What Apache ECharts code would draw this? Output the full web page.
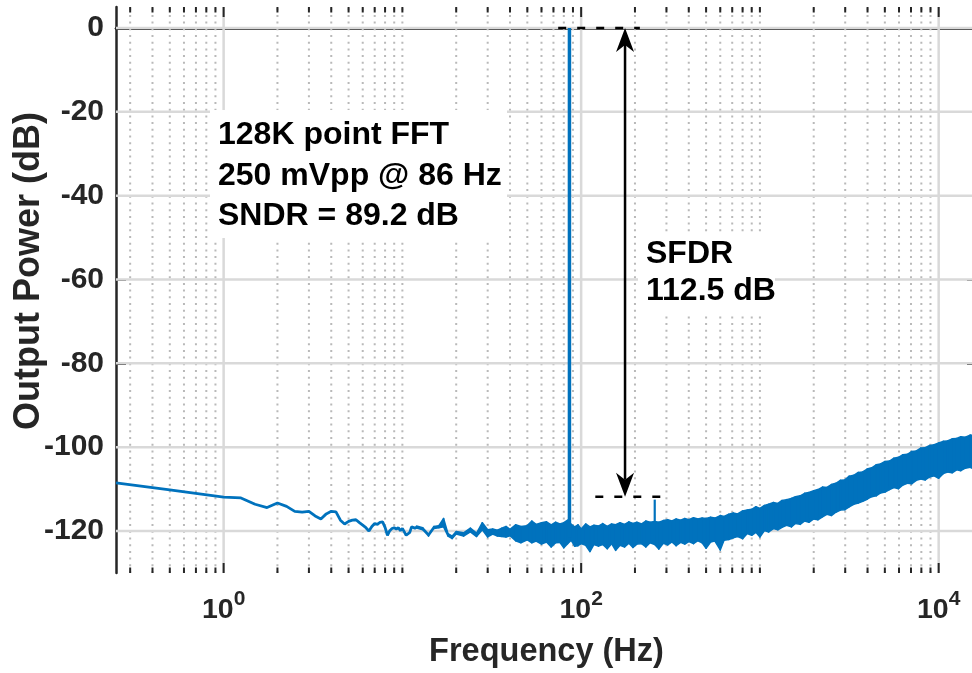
<!DOCTYPE html>
<html>
<head>
<meta charset="utf-8">
<script src="https://cdn.jsdelivr.net/npm/echarts@6/dist/echarts.min.js"></script>
<style>
  html, body { margin: 0; padding: 0; background: #ffffff; overflow: hidden; }
  #chart { width: 972px; height: 673px; }
</style>
</head>
<body>
<div id="chart"></div>
<script>
// ---- Spectrum data (frequency in Hz, power in dB) ----
// Low-frequency part of the spectrum, one point per 0.25 Hz bin
const lineFreq = [0.25, 0.5, 0.75, 1.0, 1.25, 1.5, 1.75, 2.0, 2.25, 2.5, 2.75, 3.0, 3.25, 3.5, 3.75, 4.0,
  4.25, 4.5, 4.75, 5.0, 5.25, 5.5, 5.75, 6.0, 6.25, 6.5, 6.75, 7.0, 7.25, 7.5, 7.75, 8.0, 8.25, 8.5, 8.75,
  9.0, 9.25, 9.5, 9.75, 10.0, 10.25, 10.5, 10.75, 11.0, 11.25, 11.5, 11.75, 12.0];
const linePower = [-108.5, -110.2, -111.2, -111.9, -112.1, -113.6, -114.4, -113.3, -114.1, -115.3, -115.5,
  -115.3, -116.4, -117.1, -115.9, -115.3, -115.4, -117.4, -118.3, -117.7, -117.4, -117.3, -118.0, -118.6,
  -119.2, -120.0, -118.9, -118.2, -118.4, -117.9, -117.8, -119.1, -121.0, -119.9, -119.4, -119.2, -119.5,
  -119.2, -119.9, -119.4, -120.2, -121.0, -121.4, -120.3, -119.0, -118.6, -119.3, -119.1];

// Dense noise floor above 12 Hz: upper and lower envelope of the FFT bins
const bandFreq = [12, 13, 14, 15, 16, 17, 18, 19, 20, 22, 24, 26, 28, 30, 32, 34, 36, 38, 40, 43, 46, 50,
  53, 56, 60, 64, 68, 72, 76, 80, 84, 88, 92, 96, 100, 106, 112, 118, 125, 132, 140, 148, 156, 165, 175,
  185, 195, 205, 218, 230, 243, 258, 272, 288, 305, 322, 340, 360, 380, 400, 425, 450, 475, 500, 530, 560,
  600, 630, 670, 710, 750, 800, 850, 900, 950, 1000, 1060, 1120, 1190, 1260, 1330, 1410, 1500, 1580, 1680,
  1780, 1880, 2000, 2110, 2240, 2370, 2510, 2660, 2820, 2990, 3160, 3350, 3550, 3760, 3980, 4220, 4470,
  4730, 5010, 5310, 5620, 5960, 6310, 6680, 7080, 7500, 7940, 8410, 8910, 9440, 10000, 10600, 11200,
  11900, 12600, 13300, 14100, 15000, 15800, 16384];
const bandHigh = [-118.8, -119.2, -120.7, -118.9, -118.7, -117.0, -120.6, -121.2, -120.1, -120.4, -119.3,
  -120.5, -118.0, -119.7, -119.5, -119.8, -119.3, -118.9, -119.6, -118.5, -118.9, -118.7, -117.6, -118.4,
  -118.0, -117.8, -118.5, -117.9, -118.3, -118.0, -117.4, -118.4, -119.0, -118.5, -119.5, -118.3, -119.0,
  -118.6, -118.8, -118.2, -118.9, -118.3, -118.5, -118.0, -118.4, -117.8, -118.2, -117.9, -118.3, -117.6,
  -117.9, -117.7, -117.9, -117.5, -117.3, -117.6, -117.1, -117.4, -117.0, -117.3, -116.8, -117.1, -116.9,
  -117.0, -116.7, -116.9, -116.3, -116.5, -116.0, -115.7, -115.9, -115.2, -115.0, -114.8, -114.2, -114.6,
  -113.9, -113.6, -113.2, -113.4, -112.7, -112.5, -112.2, -111.8, -111.6, -111.0, -110.8, -110.4, -110.1,
  -109.5, -109.6, -108.9, -108.6, -107.9, -107.8, -106.9, -106.7, -106.0, -105.9, -105.2, -104.9, -104.2,
  -104.0, -103.4, -103.3, -102.6, -102.4, -101.8, -101.7, -101.0, -100.9, -100.2, -100.1, -99.6, -99.4,
  -99.0, -98.6, -98.5, -98.0, -97.9, -97.5, -97.6, -97.1, -97.2, -97.0];
const bandLow = [-119.3, -119.7, -121.2, -119.4, -119.2, -119.0, -121.2, -121.8, -120.7, -121.2, -120.2,
  -121.3, -119.7, -121.4, -120.7, -121.2, -121.3, -121.4, -121.1, -122.3, -122.8, -122.1, -122.8, -122.4,
  -123.1, -122.6, -123.8, -122.8, -122.7, -124.0, -123.0, -122.2, -123.6, -123.5, -123.0, -123.4, -124.9,
  -123.2, -123.6, -123.2, -124.2, -123.0, -124.6, -123.4, -123.8, -122.9, -123.9, -123.1, -123.0, -123.8,
  -122.8, -123.2, -124.3, -122.9, -123.3, -122.6, -123.5, -122.7, -123.1, -122.5, -123.0, -122.3, -122.8,
  -124.1, -122.6, -122.4, -124.5, -122.2, -122.0, -121.6, -121.3, -121.8, -120.6, -121.0, -120.3, -121.4,
  -119.9, -120.2, -119.4, -119.7, -119.1, -118.6, -119.0, -118.2, -118.4, -117.6, -117.9, -117.1, -117.3,
  -116.6, -116.0, -116.3, -115.5, -115.0, -114.9, -114.2, -113.6, -113.3, -112.9, -112.4, -111.8, -111.6,
  -110.9, -110.7, -110.1, -109.6, -109.9, -109.0, -108.6, -108.7, -107.9, -107.6, -107.8, -107.1, -106.8,
  -107.4, -106.3, -105.9, -106.1, -105.4, -105.6, -105.0, -104.8, -105.2, -104.9];

// Input tone and the largest spur (3rd harmonic)
const toneFreq = [86, 86];
const tonePower = [-121.5, 0];
const spurFreq = [258, 258];
const spurPower = [-121.0, -112.5];

// SFDR annotation: reference levels and the measuring arrow
const topRefFreq = [74.4, 213];
const topRefPower = [0, 0];
const spurRefFreq = [120, 284];
const spurRefPower = [-111.8, -111.8];
const arrowFreq = 176;
const arrowPower = [0, -111.8];

// ---- Axes ----
const freqMin = 0.25, freqMax = 16384;
const powerMin = -130, powerMax = 5;
const decadeTicks = [1, 100, 10000];
const minorFreqTicks = [0.3, 0.4, 0.5, 0.6, 0.7, 0.8, 0.9, 2, 3, 4, 5, 6, 7, 8, 9, 10, 20, 30, 40, 50,
  60, 70, 80, 90, 200, 300, 400, 500, 600, 700, 800, 900, 1000, 2000, 3000, 4000, 5000, 6000, 7000, 8000, 9000];
const powerTicks = [-120, -100, -80, -60, -40, -20, 0];

const FONT = '"Liberation Sans", Arial, Helvetica, sans-serif';
const AXIS_COLOR = '#262626';
const TRACE = '#0072BD';

const chart = echarts.init(document.getElementById('chart'), null, { renderer: 'canvas' });

const xTickRows = decadeTicks.map(f => [f, powerMin, 1]).concat(minorFreqTicks.map(f => [f, powerMin, 0]));

const axisCommonX = {
  type: 'log', logBase: 10, min: freqMin, max: freqMax,
  axisLine: { show: true, lineStyle: { color: AXIS_COLOR, width: 2.5 } },
  axisTick: { show: false }, splitLine: { show: false }, minorTick: { show: false }
};
const axisCommonY = {
  type: 'value', min: powerMin, max: powerMax,
  axisLine: { show: true, lineStyle: { color: AXIS_COLOR, width: 2.5 } },
  axisTick: { show: true, inside: true, length: 10, customValues: powerTicks,
    lineStyle: { color: AXIS_COLOR, width: 2 } },
  splitLine: { show: false }
};

const boxFont = 'bold 32px ' + FONT;

const option = {
  animation: false,
  backgroundColor: '#ffffff',
  textStyle: { fontFamily: FONT },
  // the plot box runs a few pixels past the right edge of the canvas
  grid: { left: 116, top: 7, width: 861, height: 566, containLabel: false, outerBoundsMode: 'none' },
  xAxis: [
    Object.assign({}, axisCommonX, {
      position: 'bottom',
      name: 'Frequency (Hz)', nameLocation: 'middle', nameGap: 63,
      nameTextStyle: { fontSize: 32.5, fontWeight: 'bold', color: AXIS_COLOR, fontFamily: FONT },
      axisLabel: {
        show: true, customValues: decadeTicks, margin: 16,
        formatter: v => '{b|10}{s|' + Math.round(Math.log10(v)) + '}',
        rich: {
          b: { fontSize: 28.5, fontWeight: 'bold', color: AXIS_COLOR, fontFamily: FONT, lineHeight: 36, verticalAlign: 'bottom' },
          s: { fontSize: 21, fontWeight: 'bold', color: AXIS_COLOR, fontFamily: FONT, lineHeight: 21, verticalAlign: 'top' }
        }
      }
    }),
    Object.assign({}, axisCommonX, { position: 'top', axisLabel: { show: false } })
  ],
  yAxis: [
    Object.assign({}, axisCommonY, {
      position: 'left',
      axisLabel: { show: true, customValues: powerTicks, margin: 12, fontSize: 30, fontWeight: 'bold',
        color: AXIS_COLOR, fontFamily: FONT }
    }),
    Object.assign({}, axisCommonY, { position: 'right', axisLabel: { show: false } })
  ],
  graphic: [
    { type: 'text', z: 3, x: 29, y: 271, rotation: Math.PI / 2,
      style: { text: 'Output Power (dB)', font: 'bold 36px ' + FONT, fill: AXIS_COLOR, align: 'center', verticalAlign: 'middle' } },
    { type: 'rect', z: 3, shape: { x: 210, y: 110, width: 297, height: 128 }, style: { fill: '#ffffff' } },
    { type: 'text', z: 3, x: 218, y: 135.5, style: { text: '128K point FFT', font: boxFont, fill: '#000000', verticalAlign: 'middle' } },
    { type: 'text', z: 3, x: 218, y: 176, style: { text: '250 mVpp @ 86 Hz', font: boxFont, fill: '#000000', verticalAlign: 'middle' } },
    { type: 'text', z: 3, x: 218, y: 216.5, style: { text: 'SNDR = 89.2 dB', font: boxFont, fill: '#000000', verticalAlign: 'middle' } },
    { type: 'rect', z: 3, shape: { x: 638, y: 236, width: 137, height: 76 }, style: { fill: '#ffffff' } },
    { type: 'text', z: 3, x: 646, y: 254, style: { text: 'SFDR', font: boxFont, fill: '#000000', verticalAlign: 'middle' } },
    { type: 'text', z: 3, x: 646, y: 291, style: { text: '112.5 dB', font: boxFont, fill: '#000000', verticalAlign: 'middle' } }
  ],
  series: [
    // vertical grid: solid at labelled decades, dotted at the other log ticks
    {
      type: 'custom', z: 1, silent: true, data: xTickRows,
      renderItem: (params, api) => {
        const f = api.value(0);
        const major = api.value(2) === 1;
        const b = api.coord([f, powerMin]);
        const t = api.coord([f, powerMax]);
        return {
          type: 'line',
          shape: { x1: b[0], y1: b[1], x2: t[0], y2: t[1] },
          style: major ? { stroke: '#d9d9d9', lineWidth: 2.5 }
                       : { stroke: '#b9b9b9', lineWidth: 2, lineDash: [2, 4.7] }
        };
      }
    },
    // horizontal grid
    {
      type: 'custom', z: 1, silent: true, data: powerTicks.map(v => [freqMin, v]),
      renderItem: (params, api) => {
        const v = api.value(1);
        const l = api.coord([freqMin, v]);
        const r = api.coord([freqMax, v]);
        return {
          type: 'line', shape: { x1: l[0], y1: l[1], x2: r[0], y2: r[1] },
          style: { stroke: '#d9d9d9', lineWidth: 2.5 }
        };
      }
    },
    // inward ticks on the bottom and top edges
    {
      type: 'custom', z: 6, silent: true, data: xTickRows,
      renderItem: (params, api) => {
        const f = api.value(0);
        const len = api.value(2) === 1 ? 10 : 5.5;
        const b = api.coord([f, powerMin]);
        const t = api.coord([f, powerMax]);
        const st = { stroke: AXIS_COLOR, lineWidth: 2 };
        return {
          type: 'group', children: [
            { type: 'line', shape: { x1: b[0], y1: b[1], x2: b[0], y2: b[1] - len }, style: st },
            { type: 'line', shape: { x1: t[0], y1: t[1], x2: t[0], y2: t[1] + len }, style: st }
          ]
        };
      }
    },
    // low-frequency trace
    {
      type: 'line', z: 4, silent: true, symbol: 'none', clip: true,
      data: lineFreq.map((f, i) => [f, linePower[i]]),
      lineStyle: { color: TRACE, width: 2.8 }
    },
    // dense noise floor, filled between its envelopes
    {
      type: 'custom', z: 4, silent: true, clip: true,
      data: bandFreq.map((f, i) => [f, bandHigh[i], bandLow[i]]),
      renderItem: (params, api) => {
        const i = params.dataIndex;
        if (i >= bandFreq.length - 1) return null;
        const p = [
          api.coord([bandFreq[i], bandHigh[i]]),
          api.coord([bandFreq[i + 1], bandHigh[i + 1]]),
          api.coord([bandFreq[i + 1], bandLow[i + 1]]),
          api.coord([bandFreq[i], bandLow[i]])
        ];
        return {
          type: 'polygon', shape: { points: p },
          style: { fill: TRACE, stroke: TRACE, lineWidth: 1.5, lineJoin: 'round' }
        };
      }
    },
    // fundamental tone
    {
      type: 'line', z: 4, silent: true, symbol: 'none',
      data: toneFreq.map((f, i) => [f, tonePower[i]]),
      lineStyle: { color: TRACE, width: 3.5 }
    },
    // largest spur
    {
      type: 'line', z: 4, silent: true, symbol: 'none',
      data: spurFreq.map((f, i) => [f, spurPower[i]]),
      lineStyle: { color: TRACE, width: 2.2 }
    },
    // dashed reference levels
    {
      type: 'line', z: 5, silent: true, symbol: 'none',
      data: topRefFreq.map((f, i) => [f, topRefPower[i]]),
      lineStyle: { color: '#000000', width: 2.5, type: [8, 11] }
    },
    {
      type: 'line', z: 5, silent: true, symbol: 'none',
      data: spurRefFreq.map((f, i) => [f, spurRefPower[i]]),
      lineStyle: { color: '#000000', width: 2.5, type: [8, 11] }
    },
    // double-headed SFDR arrow
    {
      type: 'custom', z: 5, silent: true,
      data: [[arrowFreq, arrowPower[0], arrowPower[1]]],
      renderItem: (params, api) => {
        const top = api.coord([api.value(0), api.value(1)]);
        const bot = api.coord([api.value(0), api.value(2)]);
        const x = top[0], hw = 9, hl = 24, notch = 17;
        return {
          type: 'group', children: [
            { type: 'line', shape: { x1: x, y1: top[1] + notch, x2: x, y2: bot[1] - notch },
              style: { stroke: '#000000', lineWidth: 2.5 } },
            { type: 'polygon', shape: { points: [[x, top[1]], [x + hw, top[1] + hl], [x, top[1] + notch], [x - hw, top[1] + hl]] },
              style: { fill: '#000000' } },
            { type: 'polygon', shape: { points: [[x, bot[1]], [x + hw, bot[1] - hl], [x, bot[1] - notch], [x - hw, bot[1] - hl]] },
              style: { fill: '#000000' } }
          ]
        };
      }
    }
  ]
};

chart.setOption(option);
</script>
</body>
</html>
